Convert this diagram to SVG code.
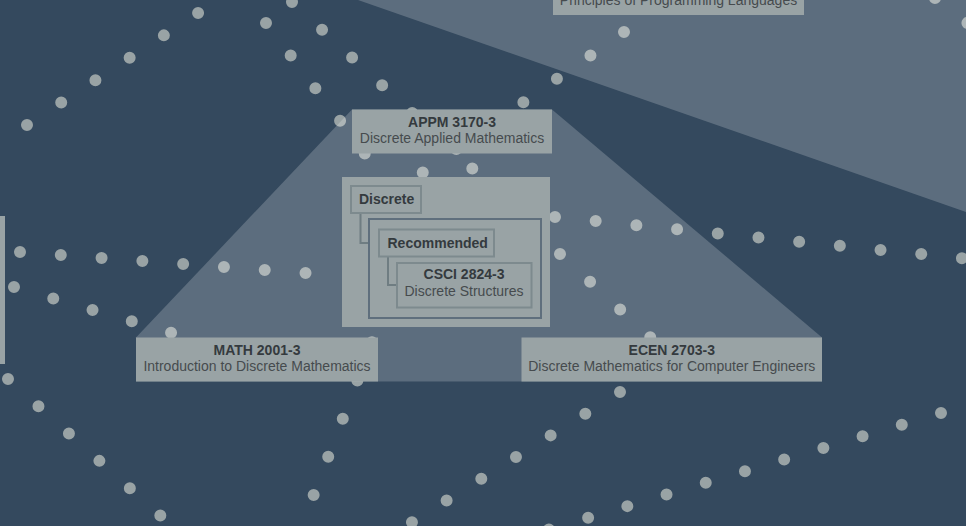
<svg xmlns="http://www.w3.org/2000/svg" width="966" height="526" viewBox="0 0 966 526">
<style>
.bg{fill:#34495e}
.dot{fill:none;stroke:#99a3a5;stroke-width:12;stroke-linecap:round;stroke-dasharray:0 40.9}
.hull{fill:#ffffff;fill-opacity:0.2}
.box{fill:#99a3a5}
.lbl{fill:#99a3a5;stroke:#7d8a8e;stroke-width:2}
.grp{fill:#99a3a5;stroke:#5f6f7d;stroke-width:2}
.tree{fill:none;stroke:#6f7d82;stroke-width:2}
.t{font-family:'Liberation Sans',Arial,sans-serif;font-size:14px;font-weight:bold;fill:#343a3e;text-anchor:middle}
.s{font-family:'Liberation Sans',Arial,sans-serif;font-size:14px;fill:#464b4e;text-anchor:middle}
.l{font-family:'Liberation Sans',Arial,sans-serif;font-size:14px;font-weight:bold;fill:#343a3e}
</style>
<rect class="bg" x="0" y="0" width="966" height="526"/>
<g id="connectors">
<line class="dot" x1="27" y1="125" x2="253" y2="-23"/>
<line class="dot" x1="266" y1="23" x2="397" y2="196"/>
<line class="dot" x1="292" y1="2" x2="514" y2="207"/>
<line class="dot" x1="624" y1="32" x2="379" y2="203"/>
<line class="dot" x1="555" y1="217" x2="1010" y2="263"/>
<line class="dot" x1="20" y1="252" x2="334" y2="275"/>
<line class="dot" x1="560" y1="254" x2="662" y2="348"/>
<line class="dot" x1="620" y1="392" x2="377" y2="544"/>
<line class="dot" x1="941" y1="413" x2="520" y2="538"/>
<line class="dot" x1="14" y1="287" x2="230" y2="350"/>
<line class="dot" x1="8" y1="379" x2="200" y2="551"/>
<line class="dot" x1="386.5" y1="304" x2="295" y2="544"/>
<line class="dot" x1="935" y1="-2" x2="1000" y2="48"/>
</g>
<g id="highlights">
<polygon class="hull" points="352,109.5 552,109.5 822,337.5 822,381.5 136,381.5 136,337.5"/>
<polygon class="hull" points="358,0 966,0 966,212"/>
</g>
<g id="node-left">
<rect class="box" x="-100" y="216" width="105" height="148"/>
</g>
<g id="node-principles">
<rect class="box" x="553" y="-29" width="251" height="44"/>
<text class="s" x="678.5" y="5">Principles of Programming Languages</text>
</g>
<g id="node-appm">
<rect class="box" x="352" y="109.5" width="200" height="44"/>
<text class="t" x="452" y="126.5">APPM 3170-3</text>
<text class="s" x="452" y="143">Discrete Applied Mathematics</text>
</g>
<g id="node-math">
<rect class="box" x="136" y="337.5" width="242" height="44"/>
<text class="t" x="257" y="354.5">MATH 2001-3</text>
<text class="s" x="257" y="371">Introduction to Discrete Mathematics</text>
</g>
<g id="node-ecen">
<rect class="box" x="521.5" y="337.5" width="300.5" height="44"/>
<text class="t" x="671.75" y="354.5">ECEN 2703-3</text>
<text class="s" x="671.75" y="371">Discrete Mathematics for Computer Engineers</text>
</g>
<g id="group-discrete">
<rect class="box" x="342" y="177" width="208" height="150"/>
<path class="tree" d="M360.5,213 V243 H369"/>
<rect class="lbl" x="351" y="186" width="70" height="27"/>
<text class="l" x="359" y="203.5">Discrete</text>
</g>
<g id="group-recommended">
<rect class="grp" x="369" y="219" width="172" height="99"/>
<path class="tree" d="M388,256.5 V285 H397"/>
<rect class="lbl" x="379" y="229.5" width="115" height="27"/>
<text class="l" x="387.5" y="247.5">Recommended</text>
</g>
<g id="node-csci">
<rect class="lbl" x="397" y="263" width="134.5" height="44.5"/>
<text class="t" x="464" y="278.5">CSCI 2824-3</text>
<text class="s" x="464" y="296">Discrete Structures</text>
</g>
</svg>
